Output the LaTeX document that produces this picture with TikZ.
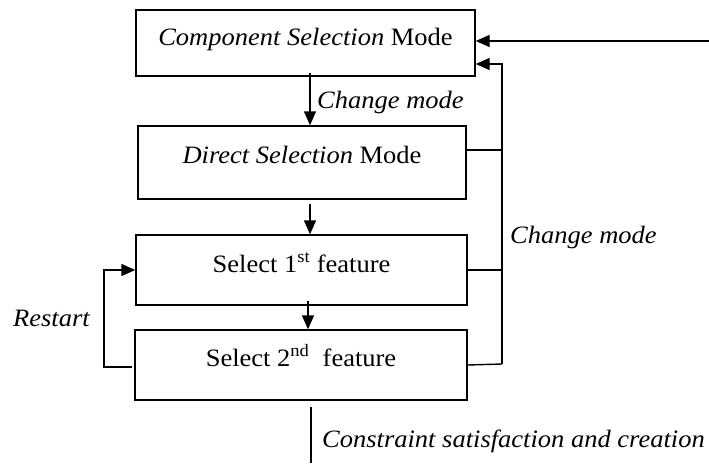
\documentclass[tikz,border=0pt]{standalone}
\usepackage{fontspec}
\setmainfont{Liberation Serif}[FakeStretch=1.06]
\usetikzlibrary{arrows.meta,calc}

\begin{document}
\begin{tikzpicture}[x=1pt,y=-1pt,
  modebox/.style={draw, line width=1.4pt, inner sep=0pt},
  txt/.style={inner sep=0pt, anchor=base, font=\fontsize{25}{30}\selectfont},
  lbl/.style={inner sep=0pt, anchor=base west, font=\fontsize{25}{30}\selectfont\itshape},
  link/.style={line width=1.4pt},
  arr/.style={line width=1.4pt, -{Triangle[length=14pt,width=12pt]}}
]
\useasboundingbox (0,0) rectangle (709,463);

% the four boxes
\node[modebox, minimum width=339pt, minimum height=66pt] (cs) at (305.5,43) {};
\node[modebox, minimum width=328pt, minimum height=73pt] (ds) at (302,162.5) {};
\node[modebox, minimum width=331pt, minimum height=70pt] (s1) at (301.5,270) {};
\node[modebox, minimum width=332pt, minimum height=70pt] (s2) at (301,365) {};

% box captions, set near the top of each box
\node[txt] (cst) at (305.5,45) {\textit{Component Selection} Mode};
\node[txt] (dst) at (302,163) {\textit{Direct Selection} Mode};
\node[txt] (s1t) at (301.5,272) {Select 1\textsuperscript{st} feature};
\node[txt] (s2t) at (301,366) {Select 2\textsuperscript{nd}\ \ feature};

% end points of the connectors
\coordinate (inR) at (709,41);
\coordinate (busTop) at (502,64);
\coordinate (busBot) at (502,364);
\coordinate (outB) at (311,463);
\coordinate (a1s) at ($(cs.south)+(4.5,-4)$);
\coordinate (a2s) at ($(ds.south)+(8,4)$);
\coordinate (a3s) at ($(s1.south)+(6.5,-5)$);
\coordinate (a4s) at ($(s2.south)+(10,6)$);
\coordinate (dsR) at ($(ds.east)+(0,-12.5)$);
\coordinate (rs) at ($(s2.west)+(-2,2)$);
\coordinate (rc) at (104,367);

% downward flow
\draw[arr] (a1s) -- (a1s |- ds.north);
\draw[arr] (a2s) -- (a2s |- s1.north);
\draw[arr] (a3s) -- (a3s |- s2.north);
\draw[link] (a4s) -- (outB);

% incoming arrow at the top
\draw[arr] (inR) -- (inR -| cs.east);

% change-mode return bus on the right
\draw[link] (dsR) -- (dsR -| busTop);
\draw[link] (s1.east) -- (s1.east -| busTop);
\draw[link] (s2.east) -- (busBot);
\draw[arr] (busBot) -- (busTop) -- (busTop -| cs.east);

% restart loop on the left
\draw[arr] (rs) -- (rc) |- (s1.west);

% labels
\node[lbl] (cm1) at (317,108) {Change mode};
\node[lbl] (cm2) at (510,243) {Change mode};
\node[lbl] (rst) at (13,326) {Restart};
\node[lbl] (csc) at (322,447) {Constraint satisfaction and creation};
\end{tikzpicture}
\end{document}
